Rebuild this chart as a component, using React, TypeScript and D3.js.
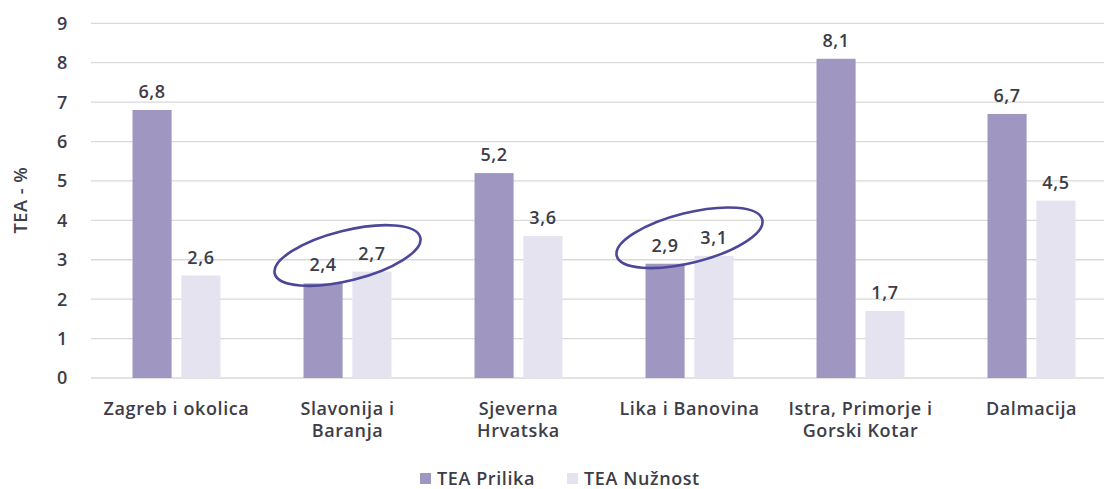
import React, { useEffect, useRef } from 'react';
import * as d3 from 'd3';

const regions = ['Zagreb i okolica', 'Slavonija i Baranja', 'Sjeverna Hrvatska', 'Lika i Banovina', 'Istra, Primorje i Gorski Kotar', 'Dalmacija'];
const regionLines = [['Zagreb i okolica'], ['Slavonija i', 'Baranja'], ['Sjeverna', 'Hrvatska'], ['Lika i Banovina'], ['Istra, Primorje i', 'Gorski Kotar'], ['Dalmacija']];
const prilika = [6.8, 2.4, 5.2, 2.9, 8.1, 6.7];
const nuznost = [2.6, 2.7, 3.6, 3.1, 1.7, 4.5];
const seriesNames = ['TEA Prilika', 'TEA Nužnost'];
const highlighted = ['Slavonija i Baranja', 'Lika i Banovina'];
const yTicks = [0, 1, 2, 3, 4, 5, 6, 7, 8, 9];

const colors = ['#9f97c2', '#e5e3f0'];
const FONT = '"Open Sans", sans-serif';
const TEXT = '#3d3d48';

const App: React.FC = () => {
  const svgRef = useRef<SVGSVGElement>(null);

  useEffect(() => {
    if (!svgRef.current) return;
    const svg = d3.select(svgRef.current);
    svg.selectAll('*').remove();

    const W = 1104, H = 489;
    const left = 91, right = 1117, top = 23.3, bottom = 378;

    const x0 = d3.scaleBand().domain(regions).range([left, right]).paddingInner(0).paddingOuter(0);
    const x1 = d3.scaleBand().domain(seriesNames).range([0, 88]).paddingInner(0.2);
    const y = d3.scaleLinear().domain([0, 9]).range([bottom, top]);

    svg.attr('width', W).attr('height', H);

    const label = (sel: any) => sel
      .style('font-family', FONT).style('font-size', '18px').style('font-weight', 600)
      .style('letter-spacing', '0.6px')
      .style('fill', TEXT);

    // grid
    svg.append('g').selectAll('line')
      .data(yTicks)
      .enter().append('line')
      .attr('x1', left).attr('x2', right)
      .attr('y1', d => y(d)).attr('y2', d => y(d))
      .attr('stroke', '#d9d9d9').attr('stroke-width', 1.3);

    svg.append('g').selectAll('text')
      .data(yTicks)
      .enter().append('text')
      .attr('x', 68).attr('y', d => y(d)).attr('dy', '0.36em')
      .attr('text-anchor', 'end')
      .call(label)
      .text(d => d);

    svg.append('text')
      .attr('transform', `translate(27,200) rotate(-90)`)
      .attr('text-anchor', 'middle')
      .call(label)
      .text('TEA - %');

    const rows = regions.map((r, i) => ({ region: r, values: [prilika[i], nuznost[i]] }));

    const groups = svg.append('g').selectAll('g')
      .data(rows)
      .enter().append('g')
      .attr('transform', d => `translate(${(x0(d.region) as number) + x0.bandwidth() / 2 - 44},0)`);

    groups.selectAll('rect')
      .data(d => d.values.map((v, k) => ({ v, s: seriesNames[k], k })))
      .enter().append('rect')
      .attr('x', d => x1(d.s) as number)
      .attr('width', x1.bandwidth())
      .attr('y', d => y(d.v))
      .attr('height', d => bottom - y(d.v))
      .attr('fill', d => colors[d.k]);

    groups.selectAll('text.val')
      .data(d => d.values.map((v, k) => ({ v, s: seriesNames[k] })))
      .enter().append('text')
      .attr('class', 'val')
      .attr('x', d => (x1(d.s) as number) + x1.bandwidth() / 2)
      .attr('y', d => y(d.v) - 12)
      .attr('text-anchor', 'middle')
      .call(label)
      .text(d => d3.format('.1f')(d.v).replace('.', ','));

    // category labels
    regions.forEach((r, i) => {
      const cx = (x0(r) as number) + x0.bandwidth() / 2;
      const t = svg.append('text')
        .attr('x', cx)
        .attr('y', 415)
        .attr('text-anchor', 'middle')
        .call(label);
      regionLines[i].forEach((line, j) => {
        t.append('tspan')
          .attr('x', cx)
          .attr('dy', j === 0 ? 0 : 22)
          .text(line);
      });
    });

    // highlight ellipses
    highlighted.forEach(r => {
      const i = regions.indexOf(r);
      const cx = (x0(r) as number) + x0.bandwidth() / 2;
      const cy = y((prilika[i] + nuznost[i]) / 2) - 22;
      svg.append('ellipse')
        .attr('cx', 0).attr('cy', 0).attr('rx', 75).attr('ry', 25)
        .attr('transform', `translate(${cx},${cy}) rotate(-14)`)
        .attr('fill', 'none')
        .attr('stroke', '#4d4799')
        .attr('stroke-width', 2.6);
    });

    // legend
    const legendX = [420, 567];
    seriesNames.forEach((s, k) => {
      const g = svg.append('g').attr('transform', `translate(${legendX[k]},473)`);
      g.append('rect').attr('x', 0).attr('y', 0).attr('width', 11).attr('height', 11).attr('fill', colors[k]);
      g.append('text')
        .attr('x', 17).attr('y', 5.5).attr('dy', '0.36em')
        .call(label)
        .text(s);
    });
  }, []);

  return (
    <svg ref={svgRef} style={{ position: 'absolute', left: 0, top: 0, display: 'block' }}></svg>
  );
};

export default App;
